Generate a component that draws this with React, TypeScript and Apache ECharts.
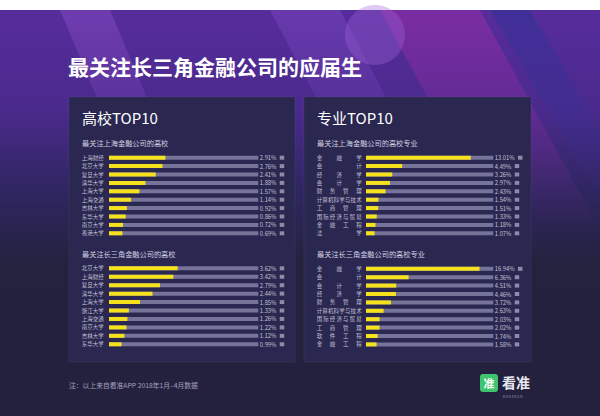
import React, { useEffect, useRef } from "react";
import * as echarts from "echarts";

const FONT = '"Noto Sans CJK SC", "Noto Sans", sans-serif';

const pageTitle = "最关注长三角金融公司的应届生";
const leftPanelTitle = "高校TOP10";
const rightPanelTitle = "专业TOP10";
const footNote = "注：以上来自看准APP 2018年1月–4月数据";

const schoolsShTitle = "最关注上海金融公司的高校";
const schoolsSh = ["上海财经", "北京大学", "复旦大学", "清华大学", "上海大学", "上海交通", "吉林大学", "东华大学", "南京大学", "香港大学"];
const schoolsShValues = [2.91, 2.76, 2.41, 1.88, 1.57, 1.14, 0.92, 0.86, 0.72, 0.69];

const schoolsYrdTitle = "最关注长三角金融公司的高校";
const schoolsYrd = ["北京大学", "上海财经", "复旦大学", "清华大学", "上海大学", "浙江大学", "上海交通", "南京大学", "吉林大学", "东华大学"];
const schoolsYrdValues = [3.62, 3.42, 2.79, 2.44, 1.85, 1.33, 1.26, 1.22, 1.12, 0.99];

const majorsShTitle = "最关注上海金融公司的高校专业";
const majorsSh = ["金融学", "会计", "经济学", "会计学", "财务管理", "计算机科学与技术", "工商管理", "国际经济与贸易", "金融工程", "法学"];
const majorsShValues = [13.01, 4.49, 3.26, 2.97, 2.43, 1.54, 1.51, 1.33, 1.18, 1.07];

const majorsYrdTitle = "最关注长三角金融公司的高校专业";
const majorsYrd = ["金融学", "会计", "会计学", "经济学", "财务管理", "计算机科学与技术", "国际经济与贸易", "工商管理", "软件工程", "金融工程"];
const majorsYrdValues = [16.94, 6.36, 4.51, 4.46, 3.72, 2.63, 2.03, 2.02, 1.74, 1.58];

const YELLOW = "#f6e21c";
const TRACK = "#77749a";
const SQUARE = "#8d8ba8";
const LABEL = "#c3c2d6";

type Panel = {
  cats: string[];
  values: number[];
  min: number;
  max: number;
  left: number;
  width: number;
  top: number;
  height: number;
  margin: number;
  justify: boolean;
};

const panels: Panel[] = [
  { cats: schoolsSh, values: schoolsShValues, min: 0, max: 7.7, left: 109, width: 149.3, top: 153.5, height: 84, margin: 27.3, justify: false },
  { cats: schoolsYrd, values: schoolsYrdValues, min: 0.4, max: 7.4, left: 109, width: 149.3, top: 264.1, height: 84.4, margin: 27.3, justify: false },
  { cats: majorsSh, values: majorsShValues, min: 0, max: 15.8, left: 366, width: 127.3, top: 153.5, height: 84, margin: 49.3, justify: true },
  { cats: majorsYrd, values: majorsYrdValues, min: 0, max: 19, left: 366, width: 127.3, top: 264.6, height: 84, margin: 49.3, justify: true },
];

const LFS = 5.5;
const JW = 45;
const richJustify: Record<string, any> = {
  e: { fontSize: LFS, color: LABEL, fontFamily: FONT, align: "left" },
};
[2, 3, 4, 5, 6, 7, 8].forEach((n) => {
  richJustify["g" + n] = {
    fontSize: LFS,
    color: LABEL,
    fontFamily: FONT,
    align: "left",
    width: (JW - LFS) / (n - 1),
  };
});

function justifyLabel(v: string) {
  const chars = Array.from(v);
  const n = chars.length;
  return chars.map((c, i) => (i < n - 1 ? `{g${n}|${c}}` : `{e|${c}}`)).join("");
}

function txt(text: string, x: number, y: number, fontSize: number, fill: string, weight: any = "normal", align = "left") {
  return {
    type: "text",
    x,
    y,
    z: 10,
    silent: true,
    style: {
      text,
      fill,
      fontSize,
      fontWeight: weight,
      fontFamily: FONT,
      align,
      textAlign: align,
      verticalAlign: "middle",
      textVerticalAlign: "middle",
    },
  };
}

export default function App() {
  const ref = useRef<HTMLDivElement>(null);
  useEffect(() => {
    if (!ref.current) return;
    const chart = echarts.init(ref.current, undefined, { renderer: "svg", width: 600, height: 416 });

    const grid: any[] = [];
    const xAxis: any[] = [];
    const yAxis: any[] = [];
    const series: any[] = [];

    panels.forEach((p, i) => {
      grid.push({ left: p.left, top: p.top, width: p.width, height: p.height, containLabel: false });
      xAxis.push({ type: "value", gridIndex: i, min: p.min, max: p.max, show: false });
      yAxis.push({
        type: "category",
        gridIndex: i,
        data: p.cats,
        inverse: true,
        axisLine: { show: false },
        axisTick: { show: false },
        splitLine: { show: false },
        axisLabel: p.justify
          ? { interval: 0, align: "left", margin: p.margin, formatter: justifyLabel, rich: richJustify, fontSize: LFS, color: LABEL, fontFamily: FONT }
          : { interval: 0, align: "left", margin: p.margin, fontSize: LFS, color: LABEL, fontFamily: FONT },
      });
      series.push({
        type: "bar",
        xAxisIndex: i,
        yAxisIndex: i,
        data: p.cats.map(() => p.max),
        barWidth: 4,
        barGap: "-100%",
        silent: true,
        z: 2,
        itemStyle: { color: TRACK },
        label: {
          show: true,
          position: "right",
          distance: 1.5,
          formatter: (q: any) => `{v|${p.values[q.dataIndex].toFixed(2)}%} {s|\u00a0}`,
          rich: {
            v: { fontSize: 5.8, color: LABEL, fontFamily: FONT },
            s: { width: 4.5, height: 4, backgroundColor: SQUARE, fontSize: 4 },
          },
        },
      });
      series.push({
        type: "bar",
        xAxisIndex: i,
        yAxisIndex: i,
        data: p.values,
        barWidth: 4,
        barGap: "-100%",
        silent: true,
        z: 3,
        itemStyle: { color: YELLOW },
      });
    });

    const graphic: any[] = [
      { type: "rect", z: -10, silent: true, shape: { x: 0, y: 0, width: 600, height: 416 }, style: { fill: "#ffffff" } },
      {
        type: "rect",
        z: -9,
        silent: true,
        shape: { x: 0, y: 10, width: 600, height: 406 },
        style: {
          fill: new echarts.graphic.LinearGradient(0, 0, 0, 1, [
            { offset: 0, color: "#572c9c" },
            { offset: 0.25, color: "#4a2a8c" },
            { offset: 0.45, color: "#2f2660" },
            { offset: 0.62, color: "#25223f" },
            { offset: 1, color: "#24213f" },
          ]),
        },
      },
      {
        type: "polygon",
        z: -8,
        silent: true,
        shape: { points: [[60, 10], [110, 10], [190, 200], [140, 200]] },
        style: {
          fill: new echarts.graphic.LinearGradient(0, 0, 0, 1, [
            { offset: 0, color: "rgba(140,80,200,0.45)" },
            { offset: 1, color: "rgba(140,80,200,0)" },
          ]),
        },
      },
      {
        type: "polygon",
        z: -8,
        silent: true,
        shape: { points: [[270, 10], [340, 10], [440, 200], [370, 200]] },
        style: {
          fill: new echarts.graphic.LinearGradient(0, 0, 0, 1, [
            { offset: 0, color: "rgba(120,70,190,0.5)" },
            { offset: 1, color: "rgba(120,70,190,0)" },
          ]),
        },
      },
      {
        type: "polygon",
        z: -8,
        silent: true,
        shape: { points: [[380, 10], [480, 10], [600, 230], [500, 230]] },
        style: {
          fill: new echarts.graphic.LinearGradient(0, 0, 0, 1, [
            { offset: 0, color: "rgba(150,45,165,0.55)" },
            { offset: 1, color: "rgba(150,45,165,0)" },
          ]),
        },
      },
      {
        type: "polygon",
        z: -8,
        silent: true,
        shape: { points: [[490, 10], [530, 10], [600, 130], [600, 200]] },
        style: {
          fill: new echarts.graphic.LinearGradient(0, 0, 0, 1, [
            { offset: 0, color: "rgba(50,50,150,0.6)" },
            { offset: 1, color: "rgba(50,50,150,0)" },
          ]),
        },
      },
      {
        type: "circle",
        z: -7,
        silent: true,
        shape: { cx: 375, cy: 35, r: 30 },
        style: { fill: "rgba(160,100,220,0.35)" },
      },
      {
        type: "rect",
        z: -5,
        silent: true,
        shape: { x: 69, y: 97, width: 226, height: 265 },
        style: { fill: "#2a2750", stroke: "rgba(255,255,255,0.05)", lineWidth: 1 },
      },
      {
        type: "rect",
        z: -5,
        silent: true,
        shape: { x: 304, y: 97, width: 227, height: 265 },
        style: { fill: "#2a2750", stroke: "rgba(255,255,255,0.05)", lineWidth: 1 },
      },
      txt(pageTitle, 68, 66, 21, "#ffffff", "bold"),
      txt(leftPanelTitle, 82, 117.5, 15, "#ffffff", "normal"),
      txt(rightPanelTitle, 317, 117.5, 15, "#ffffff", "normal"),
      txt(schoolsShTitle, 82, 143, 7.2, "#d2d1e2"),
      txt(schoolsYrdTitle, 82, 254, 7.2, "#d2d1e2"),
      txt(majorsShTitle, 317, 143, 7.2, "#d2d1e2"),
      txt(majorsYrdTitle, 317, 254.3, 7.2, "#d2d1e2"),
      txt(footNote, 69, 385, 6.8, "#a3a2bd"),
      {
        type: "rect",
        z: 10,
        silent: true,
        shape: { x: 480, y: 374, width: 18, height: 18, r: 3 },
        style: { fill: "#3fc46f" },
      },
      txt("准", 489, 383, 11, "#ffffff", "bold", "center"),
      txt("看准", 502, 382, 14, "#e8e8f0", "bold"),
      txt("K A N Z H U N", 503, 396, 3.2, "#9c9bb5"),
    ];

    chart.setOption({
      animation: false,
      backgroundColor: "transparent",
      graphic,
      grid,
      xAxis,
      yAxis,
      series,
    });
    return () => chart.dispose();
  }, []);
  return <div ref={ref} style={{ position: "absolute", left: 0, top: 0, width: 600, height: 416 }} />;
}
